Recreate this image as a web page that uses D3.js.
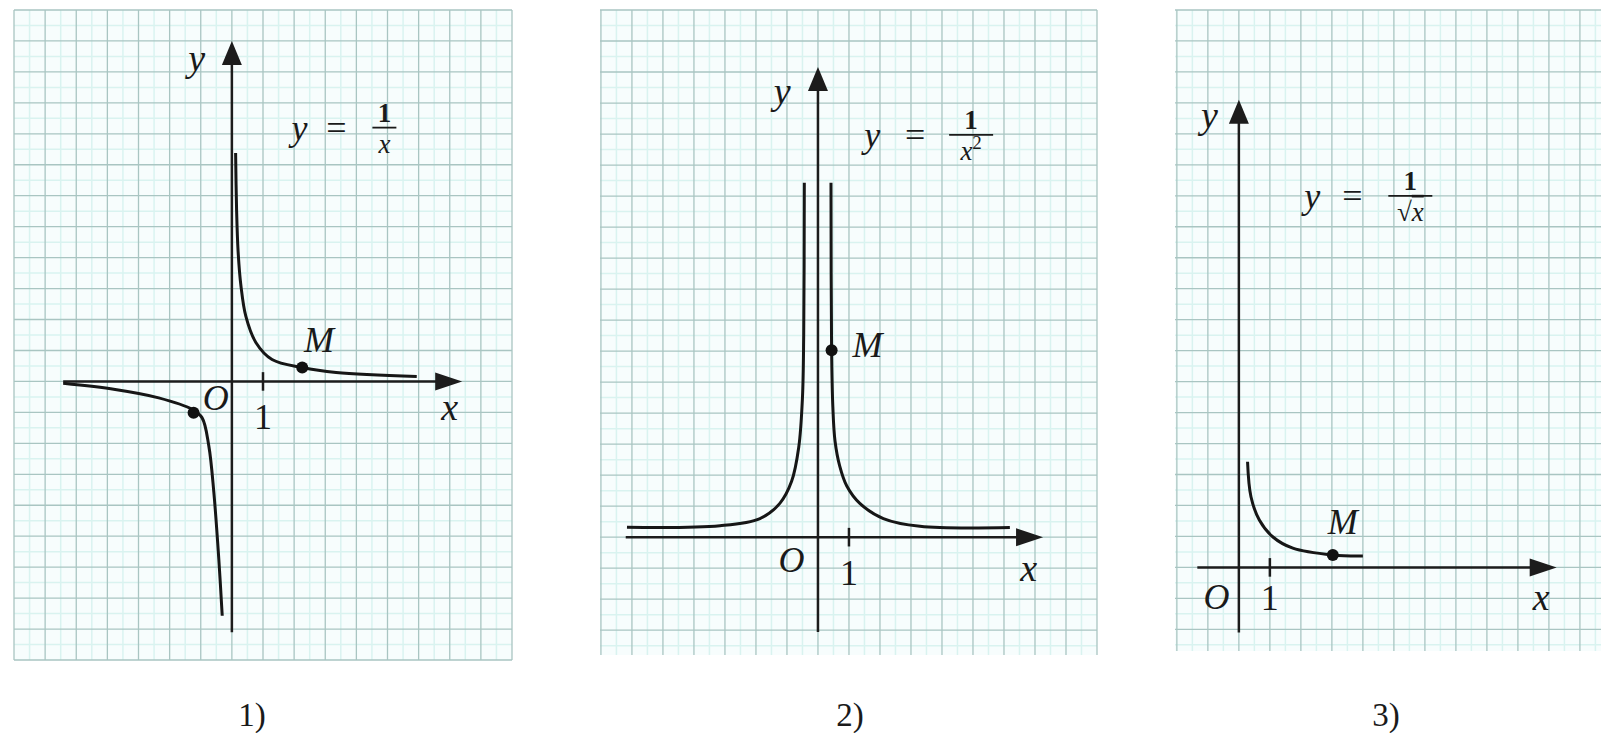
<!DOCTYPE html>
<html>
<head>
<meta charset="utf-8">
<script src="https://cdn.jsdelivr.net/npm/d3@7"></script>
<style>
  body { margin: 0; background: #fff; }
  svg text { font-family: "Liberation Serif", "DejaVu Serif", serif; fill: #1a1a1a; }
  .it { font-style: italic; }
</style>
</head>
<body>
<svg id="chart" width="1601" height="733"></svg>
<script>
// curve points, in grid units (x, y)
var curve1Left  = [[-5.42,-0.06],[-3.75,-0.26],[-2.35,-0.53],[-1.28,-0.9],[-0.96,-1.17],[-0.74,-2.09],[-0.58,-3.58],[-0.42,-5.74],[-0.31,-7.57]];
var curve1Right = [[0.12,7.38],[0.15,5.6],[0.2,4.2],[0.29,3.1],[0.45,2.1],[0.77,1.26],[1.29,0.71],[2.26,0.45],[3.35,0.29],[5.94,0.16]];
var curve2Left  = [[-6.16,0.32],[-3.16,0.37],[-1.87,0.6],[-1.23,1.09],[-0.85,1.8],[-0.62,2.9],[-0.5,4.5],[-0.46,6.5],[-0.44,11.43]];
var curve2Right = [[0.42,11.43],[0.44,6.03],[0.48,4.2],[0.55,3.1],[0.7,2.3],[0.93,1.65],[1.35,1.09],[2.11,0.6],[3.29,0.35],[6.19,0.31]];
var curve3      = [[0.28,3.41],[0.39,2.28],[0.66,1.53],[1.09,0.99],[1.74,0.62],[3.03,0.4],[4.0,0.37]];

var dots1 = [[2.26,0.45],[-1.23,-1.01]];
var dots2 = [[0.44,6.03]];
var dots3 = [[3.03,0.4]];

var panelLabels = ["1)", "2)", "3)"];
var formulas = [
  {num: "1", den: "x", sup: ""},
  {num: "1", den: "x", sup: "2"},
  {num: "1", den: "√x", sup: ""}
];

var svg = d3.select("#chart");

var panels = [
  { box: [14, 512, 10, 660], xd: [-7, 9], yd: [-9, 12],
    xAxis: [-5.42, 7.4], yAxis: [-8.1, 11.0],
    curves: [curve1Left, curve1Right], dots: dots1,
    lbl: {y: [-1.13, 10.45], x: [7.0, -0.84], O: [-0.52, -0.55], one: [1, -1.16], M: [2.8, 1.35]},
    f: {at: [4.9, 8.2], bw: 24, dy: -85, de: -48},
    caption: 252 },
  { box: [600, 1097, 10, 655], xd: [-7.03, 9], yd: [-3.8, 17],
    xAxis: [-6.2, 7.26], yAxis: [-3.06, 15.16],
    curves: [curve2Left, curve2Right], dots: dots2,
    lbl: {y: [-1.15, 14.4], x: [6.8, -1.0], O: [-0.85, -0.75], one: [1, -1.15], M: [1.6, 6.2]},
    f: {at: [4.94, 12.97], bw: 44, dy: -99, de: -56},
    caption: 850 },
  { box: [1175, 1601, 10, 651], xd: [-2.06, 11.68], yd: [-2.7, 18],
    xAxis: [-1.34, 10.25], yAxis: [-2.1, 15.1],
    curves: [curve3], dots: dots3,
    lbl: {y: [-0.95, 14.6], x: [9.75, -0.95], O: [-0.72, -0.95], one: [1, -1.0], M: [3.35, 1.45]},
    f: {at: [5.53, 12.0], bw: 44, dy: -98, de: -58},
    caption: 1386 }
];

panels.forEach(function(p, i) {
  var x = d3.scaleLinear().domain(p.xd).range([p.box[0], p.box[1]]);
  var y = d3.scaleLinear().domain(p.yd).range([p.box[3], p.box[2]]);
  var g = svg.append("g");

  g.append("rect")
    .attr("x", p.box[0]).attr("y", p.box[2])
    .attr("width", p.box[1] - p.box[0]).attr("height", p.box[3] - p.box[2])
    .attr("fill", "#f7fdfd");

  // graph paper: half-unit light lines, unit darker lines
  var minorX = d3.range(Math.ceil(p.xd[0] * 2) / 2, p.xd[1], 0.5).filter(function(v) { return v % 1 !== 0; });
  var minorY = d3.range(Math.ceil(p.yd[0] * 2) / 2, p.yd[1], 0.5).filter(function(v) { return v % 1 !== 0; });
  var majorX = d3.range(Math.ceil(p.xd[0]), p.xd[1] + 0.001, 1);
  var majorY = d3.range(Math.ceil(p.yd[0]), p.yd[1] + 0.001, 1);

  g.selectAll(".mx").data(minorX).enter().append("line")
    .attr("x1", x).attr("x2", x).attr("y1", p.box[2]).attr("y2", p.box[3])
    .attr("stroke", "#d9f3f0").attr("stroke-width", 1.5);
  g.selectAll(".my").data(minorY).enter().append("line")
    .attr("y1", y).attr("y2", y).attr("x1", p.box[0]).attr("x2", p.box[1])
    .attr("stroke", "#d9f3f0").attr("stroke-width", 1.5);
  g.selectAll(".Mx").data(majorX).enter().append("line")
    .attr("x1", x).attr("x2", x).attr("y1", p.box[2]).attr("y2", p.box[3])
    .attr("stroke", "#a9c5c2").attr("stroke-width", 1.3);
  g.selectAll(".My").data(majorY).enter().append("line")
    .attr("y1", y).attr("y2", y).attr("x1", p.box[0]).attr("x2", p.box[1])
    .attr("stroke", "#a9c5c2").attr("stroke-width", 1.3);

  // axes with arrows
  var ax = "#1c1c1c";
  g.append("line")
    .attr("x1", x(p.xAxis[0])).attr("x2", x(p.xAxis[1]) - 20)
    .attr("y1", y(0)).attr("y2", y(0))
    .attr("stroke", ax).attr("stroke-width", 2.5);
  g.append("line")
    .attr("x1", x(0)).attr("x2", x(0))
    .attr("y1", y(p.yAxis[0])).attr("y2", y(p.yAxis[1]) + 20)
    .attr("stroke", ax).attr("stroke-width", 2.5);
  var tx = x(p.xAxis[1]), ty = y(0);
  g.append("path")
    .attr("d", "M" + tx + "," + ty + "L" + (tx - 27) + "," + (ty - 9) + "L" + (tx - 27) + "," + (ty + 9) + "Z")
    .attr("fill", ax);
  var ux = x(0), uy = y(p.yAxis[1]);
  g.append("path")
    .attr("d", "M" + ux + "," + uy + "L" + (ux - 10) + "," + (uy + 24) + "L" + (ux + 10) + "," + (uy + 24) + "Z")
    .attr("fill", ax);

  // unit tick
  g.append("line")
    .attr("x1", x(1)).attr("x2", x(1))
    .attr("y1", y(0.3)).attr("y2", y(-0.3))
    .attr("stroke", ax).attr("stroke-width", 2.5);

  // curves
  var line = d3.line()
    .x(function(d) { return x(d[0]); })
    .y(function(d) { return y(d[1]); })
    .curve(d3.curveCatmullRom.alpha(0.5));
  g.selectAll(".curve").data(p.curves).enter().append("path")
    .attr("d", line)
    .attr("fill", "none").attr("stroke", "#161616").attr("stroke-width", 3);

  g.selectAll(".dot").data(p.dots).enter().append("circle")
    .attr("cx", function(d) { return x(d[0]); })
    .attr("cy", function(d) { return y(d[1]); })
    .attr("r", 6).attr("fill", "#111");

  // labels
  function label(pos, txt, italic, size) {
    g.append("text")
      .attr("class", italic ? "it" : null)
      .attr("x", x(pos[0])).attr("y", y(pos[1]))
      .attr("text-anchor", "middle").attr("dominant-baseline", "central")
      .attr("font-size", size)
      .text(txt);
  }
  label(p.lbl.y, "y", true, 38);
  label(p.lbl.x, "x", true, 38);
  label(p.lbl.O, "O", true, 36);
  label(p.lbl.one, "1", false, 36);
  label(p.lbl.M, "M", true, 36);

  // formula y = 1 / ...
  var fx = x(p.f.at[0]), fy = y(p.f.at[1]);
  var fm = formulas[i];
  g.append("text").attr("class", "it").attr("x", fx + p.f.dy).attr("y", fy)
    .attr("text-anchor", "middle").attr("dominant-baseline", "central")
    .attr("font-size", 36).text("y");
  g.append("text").attr("x", fx + p.f.de).attr("y", fy)
    .attr("text-anchor", "middle").attr("dominant-baseline", "central")
    .attr("font-size", 36).text("=");
  g.append("line")
    .attr("x1", fx - p.f.bw / 2).attr("x2", fx + p.f.bw / 2)
    .attr("y1", fy).attr("y2", fy)
    .attr("stroke", "#1a1a1a").attr("stroke-width", 1.8);
  g.append("text").attr("x", fx).attr("y", fy - 6)
    .attr("text-anchor", "middle")
    .attr("font-size", 27).attr("font-weight", "bold").text(fm.num);
  var den = g.append("text").attr("x", fx).attr("y", fy + 25)
    .attr("text-anchor", "middle").attr("font-size", 27);
  if (fm.den === "√x") {
    den.append("tspan").attr("font-weight", "bold").text("√");
    den.append("tspan").attr("class", "it").attr("text-decoration", "overline").text("x");
  } else {
    den.append("tspan").attr("class", "it").text(fm.den);
    if (fm.sup) den.append("tspan").attr("dy", -11).attr("font-size", 19).text(fm.sup);
  }

  svg.append("text")
    .attr("x", p.caption).attr("y", 715)
    .attr("text-anchor", "middle").attr("dominant-baseline", "central")
    .attr("font-size", 33)
    .text(panelLabels[i]);
});
</script>
</body>
</html>
